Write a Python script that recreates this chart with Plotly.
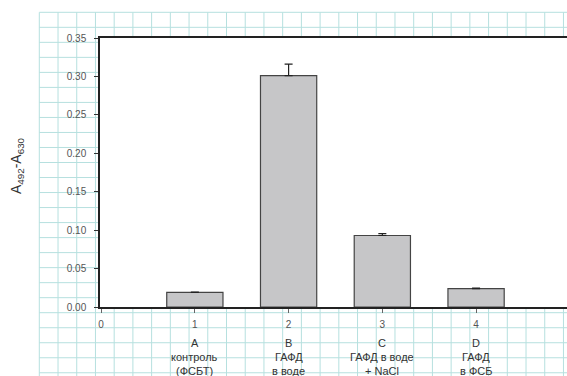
import plotly.graph_objects as go

# ---- data ----
positions = [1, 2, 3, 4]
values = [0.019, 0.301, 0.093, 0.024]
errors = [0.0005, 0.015, 0.0025, 0.0005]
x_ticks = [0, 1, 2, 3, 4]
x_ticktext = ["0", "1", "2", "3", "4"]
group_letters = ["A", "B", "C", "D"]
group_line1 = ["контроль", "ГАФД", "ГАФД в воде", "ГАФД"]
group_line2 = ["(ФСБТ)", "в воде", "+ NaCl", "в ФСБ"]

# ---- page geometry (pixels) ----
W, H = 567, 376
L, R, T, B = 100, 0, 38, 69
PW, PH = W - L - R, H - T - B


def px_x(px):
    return (px - L) / PW


def px_y(py):
    return (H - B - py) / PH


FONT = "Arial, Liberation Sans, sans-serif"
GRID = "#b6e0df"

shapes = []
# graph-paper background
grid_left, grid_top = 39.3, 12.3
step_x, step_y = 18.72, 15.02
k = 0
while grid_left + step_x * k <= W:
    gx = px_x(grid_left + step_x * k)
    shapes.append(dict(type="line", xref="paper", yref="paper", layer="below",
                       x0=gx, x1=gx, y0=px_y(H), y1=px_y(grid_top),
                       line=dict(color=GRID, width=1)))
    k += 1
k = 0
while grid_top + step_y * k <= H:
    gy = px_y(grid_top + step_y * k)
    shapes.append(dict(type="line", xref="paper", yref="paper", layer="below",
                       x0=px_x(grid_left), x1=px_x(W), y0=gy, y1=gy,
                       line=dict(color=GRID, width=1)))
    k += 1
# white plotting area over the paper grid
shapes.append(dict(type="rect", xref="paper", yref="paper", layer="below",
                   x0=0, x1=1, y0=0, y1=1, fillcolor="white",
                   line=dict(width=0)))

fig = go.Figure()
fig.add_trace(go.Bar(
    x=positions, y=values, width=0.6,
    marker=dict(color="#c6c6c8", line=dict(color="#444444", width=1.2)),
    error_y=dict(type="data", array=errors, arrayminus=[0] * len(errors),
                 symmetric=False, color="#222222", thickness=1.2, width=4),
    showlegend=False,
))

annotations = []
rows = [(group_letters, 343.3), (group_line1, 357.5), (group_line2, 371.3)]
for texts, py in rows:
    for xpos, txt in zip(positions, texts):
        annotations.append(dict(x=xpos, y=px_y(py), xref="x", yref="paper",
                                text=txt, showarrow=False, xanchor="center",
                                yanchor="middle",
                                font=dict(family=FONT, size=11, color="#333333")))

annotations.append(dict(x=px_x(17), y=px_y(166), xref="paper", yref="paper",
                        text="A<sub>492</sub>-A<sub>630</sub>", textangle=-90,
                        showarrow=False, xanchor="center", yanchor="middle",
                        font=dict(family=FONT, size=14, color="#333333")))

fig.update_layout(
    width=W, height=H,
    margin=dict(l=L, r=R, t=T, b=B, pad=0),
    paper_bgcolor="white", plot_bgcolor="white",
    font=dict(family=FONT),
    shapes=shapes, annotations=annotations,
    bargap=0.4,
    xaxis=dict(range=[-0.012, 4.97], tickvals=x_ticks, ticktext=x_ticktext,
               ticks="outside", ticklen=4, tickcolor="#666666", tickwidth=1,
               showline=True, linecolor="#222222", linewidth=1.5, mirror=True,
               showgrid=False, zeroline=False, ticklabelstandoff=3,
               tickfont=dict(family=FONT, size=10, color="#555555")),
    yaxis=dict(range=[0, 0.35], dtick=0.05, tick0=0, tickformat=".2f",
               ticks="outside", ticklen=4, tickcolor="#333333", tickwidth=1,
               showline=True, linecolor="#222222", linewidth=1.5, mirror=False,
               showgrid=False, zeroline=False, ticklabelstandoff=6,
               tickfont=dict(family=FONT, size=10, color="#555555")),
)

fig.write_html("out.html")
